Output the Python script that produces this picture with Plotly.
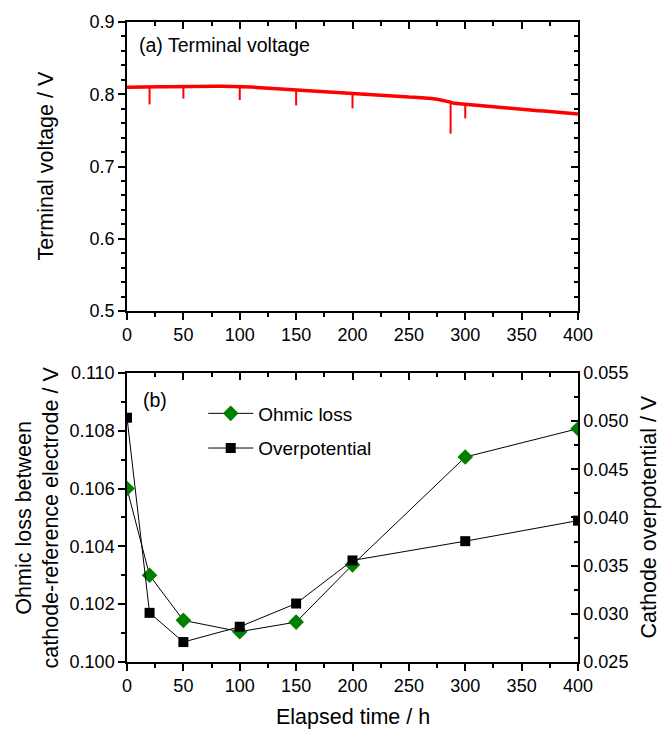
import plotly.graph_objects as go

# ---------------- data ----------------
# (a) terminal voltage
time_h = [0, 5, 10, 15, 20, 25, 30, 35, 40, 45, 50, 55, 60, 65, 70, 75, 80, 85, 90, 95,
          100, 105, 110, 115, 120, 125, 130, 135, 140, 145, 150, 155, 160, 165, 170, 175,
          180, 185, 190, 195, 200, 205, 210, 215, 220, 225, 230, 235, 240, 245, 250, 255,
          260, 265, 270, 275, 280, 284, 287, 290, 295, 300, 305, 310, 315, 320, 325, 330,
          335, 340, 345, 350, 355, 360, 365, 370, 375, 380, 385, 390, 395, 400]
voltage_v = [0.8097, 0.8096, 0.8098, 0.8097, 0.8098, 0.8101, 0.8103, 0.8104, 0.8106, 0.8107,
             0.8108, 0.8110, 0.8111, 0.8112, 0.8111, 0.8112, 0.8111, 0.8110, 0.8110, 0.8109,
             0.8108, 0.8104, 0.8100, 0.8095, 0.8090, 0.8083, 0.8078, 0.8072, 0.8065, 0.8060,
             0.8054, 0.8050, 0.8046, 0.8040, 0.8035, 0.8030, 0.8025, 0.8020, 0.8016, 0.8012,
             0.8008, 0.8002, 0.7998, 0.7993, 0.7985, 0.7977, 0.7975, 0.7970, 0.7966, 0.7964,
             0.7963, 0.7960, 0.7957, 0.7950, 0.7940, 0.7930, 0.7918, 0.7908, 0.7892, 0.7875,
             0.7870, 0.7862, 0.7850, 0.7845, 0.7840, 0.7835, 0.7828, 0.7820, 0.7812, 0.7805,
             0.7798, 0.7790, 0.7783, 0.7778, 0.7773, 0.7768, 0.7760, 0.7752, 0.7745, 0.7738,
             0.7732, 0.7727]
# short voltage dips (time, level before dip, lowest level)
dip_time_h = [20, 50, 100, 150, 200, 287, 300]
dip_top_v = [0.8098, 0.8108, 0.8108, 0.8054, 0.8008, 0.7895, 0.7862]
dip_bottom_v = [0.786, 0.794, 0.792, 0.7846, 0.7805, 0.7455, 0.7667]

# (b) ohmic loss and overpotential
elapsed_h = [0, 20, 50, 100, 150, 200, 300, 400]
ohmic_loss_v = [0.1060, 0.1030, 0.10144, 0.10105, 0.10138, 0.10336, 0.10709, 0.10807]
overpotential_v = [0.05035, 0.0301, 0.02707, 0.02866, 0.03107, 0.03554, 0.03754, 0.03967]

x_ticks = [0, 50, 100, 150, 200, 250, 300, 350, 400]

# ---------------- figure ----------------
FONT = "Liberation Sans, Arial, sans-serif"
RED = "#ff0000"
GREEN = "#008000"
TITLE_FONT = dict(family=FONT, size=21.5, color="black")

fig = go.Figure()

fig.add_trace(go.Scatter(x=time_h, y=voltage_v, mode="lines",
                         line=dict(color=RED, width=3.5), showlegend=False,
                         xaxis="x", yaxis="y", hoverinfo="skip"))
dx, dy = [], []
for t, top, bot in zip(dip_time_h, dip_top_v, dip_bottom_v):
    dx += [t, t, None]
    dy += [top, bot, None]
fig.add_trace(go.Scatter(x=dx, y=dy, mode="lines", line=dict(color=RED, width=2),
                         showlegend=False, xaxis="x", yaxis="y", hoverinfo="skip"))

fig.add_trace(go.Scatter(x=elapsed_h, y=ohmic_loss_v, mode="lines+markers", name="Ohmic loss",
                         line=dict(color="black", width=1),
                         marker=dict(symbol="diamond", size=12, color=GREEN),
                         xaxis="x3", yaxis="y3", legendgroup="a"))
fig.add_trace(go.Scatter(x=elapsed_h, y=overpotential_v, mode="lines+markers", name="Overpotential",
                         line=dict(color="black", width=1),
                         marker=dict(symbol="square", size=10, color="black"),
                         xaxis="x3", yaxis="y4", legendgroup="b"))

# empty traces so the mirrored frame axes (top / right) are drawn
for xa, ya in [("x2", "y"), ("x", "y2"), ("x4", "y3")]:
    fig.add_trace(go.Scatter(x=[None], y=[None], xaxis=xa, yaxis=ya, showlegend=False,
                             hoverinfo="skip", mode="lines"))

TOP_DOM = [0.5483, 1.0]
BOT_DOM = [0.0, 0.4517]

def ax(**kw):
    base = dict(showline=True, linecolor="black", linewidth=1.5, showgrid=False, zeroline=False,
                ticks="outside", ticklen=7, tickwidth=1.5, tickcolor="black",
                tickfont=dict(family=FONT, size=18, color="black"))
    base.update(kw)
    return base

def minor(dt, side):
    return dict(dtick=dt, ticks=side, ticklen=4, tickwidth=1.5, tickcolor="black")

fig.update_layout(
    width=664, height=731,
    margin=dict(l=127, r=86, t=20, b=69),
    plot_bgcolor="white", paper_bgcolor="white",
    font=dict(family=FONT, color="black"),
    # panel (a)
    xaxis=ax(domain=[0, 1], anchor="y", range=[0, 400], tickvals=x_ticks, minor=minor(25, "outside")),
    xaxis2=ax(overlaying="x", anchor="y", side="top", range=[0, 400], tickvals=x_ticks,
              ticks="inside", showticklabels=False, minor=minor(25, "inside")),
    yaxis=ax(domain=TOP_DOM, anchor="x", range=[0.5, 0.9], dtick=0.1, tickformat=".1f",
             minor=minor(0.02, "outside")),
    yaxis2=ax(overlaying="y", anchor="x", side="right", range=[0.5, 0.9], dtick=0.1,
              ticks="inside", showticklabels=False, minor=minor(0.02, "inside")),
    # panel (b)
    xaxis3=ax(domain=[0, 1], anchor="y3", range=[0, 400], tickvals=x_ticks, minor=minor(25, "outside")),
    xaxis4=ax(overlaying="x3", anchor="y3", side="top", range=[0, 400], tickvals=x_ticks,
              ticks="inside", showticklabels=False, minor=minor(25, "inside")),
    yaxis3=ax(domain=BOT_DOM, anchor="x3", range=[0.100, 0.110], dtick=0.002, tickformat=".3f",
              minor=minor(0.001, "outside")),
    yaxis4=ax(overlaying="y3", anchor="x3", side="right", range=[0.025, 0.055], dtick=0.005,
              tickformat=".3f", ticks="inside", minor=minor(0.0025, "inside")),
    legend=dict(x=0.169, y=0.418, xanchor="left", yanchor="top", bgcolor="rgba(0,0,0,0)",
                font=dict(family=FONT, size=19, color="black"), traceorder="grouped",
                tracegroupgap=7, itemwidth=45),
    annotations=[
        dict(text="(a) Terminal voltage", xref="x domain", yref="y domain", x=0.023, y=0.92,
             xanchor="left", yanchor="middle", showarrow=False,
             font=dict(family=FONT, size=19.5, color="black")),
        dict(text="(b)", xref="x3 domain", yref="y3 domain", x=0.031, y=0.907,
             xanchor="left", yanchor="middle", showarrow=False,
             font=dict(family=FONT, size=19.5, color="black")),
        # axis titles
        dict(text="Terminal voltage / V", xref="paper", yref="y domain", x=0, y=0.5,
             xshift=-81, textangle=-90, xanchor="center", yanchor="middle", showarrow=False,
             font=TITLE_FONT),
        dict(text="Ohmic loss between<br>cathode-reference electrode / V", xref="paper",
             yref="y3 domain", x=0, y=0.5, xshift=-89, textangle=-90, xanchor="center",
             yanchor="middle", showarrow=False, font=TITLE_FONT),
        dict(text="Cathode overpotential / V", xref="paper", yref="y3 domain", x=1, y=0.5,
             xshift=71, textangle=-90, xanchor="center", yanchor="middle", showarrow=False,
             font=TITLE_FONT),
        dict(text="Elapsed time / h", xref="paper", yref="paper", x=0.5, y=0, yshift=-55,
             xanchor="center", yanchor="middle", showarrow=False, font=TITLE_FONT),
    ],
)

fig.write_html("out.html", config={"displayModeBar": False},
               post_script="document.body.style.margin='0';")
